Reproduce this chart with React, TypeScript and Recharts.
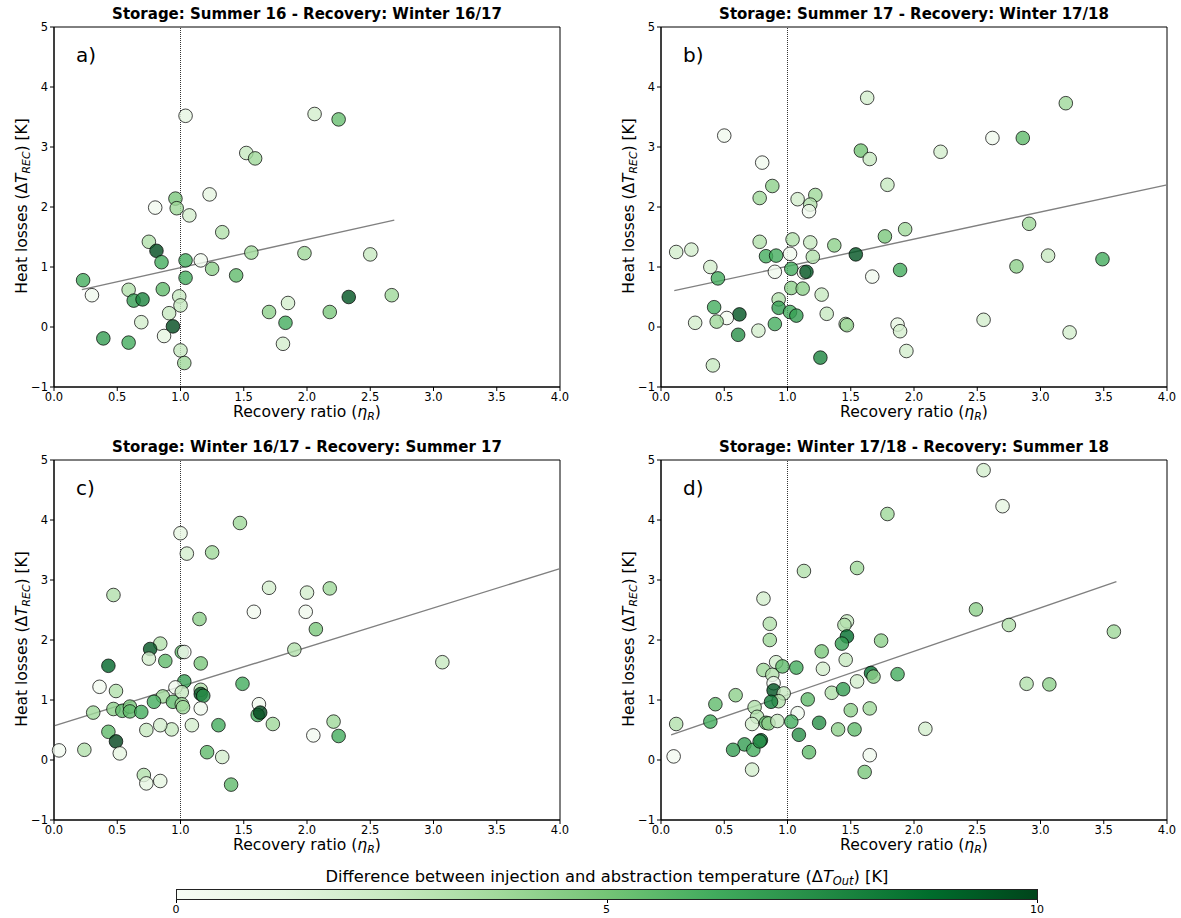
import React from "react";
import { ReferenceArea, ReferenceLine, Scatter, ScatterChart, XAxis, YAxis } from "recharts";

const FONT = "'DejaVu Sans', sans-serif";

// a) Storage: Summer 16 - Recovery: Winter 16/17
const ratioA = [1.04, 1.52, 1.59, 0.96, 0.97, 0.8, 1.23, 1.07, 1.33, 0.75, 0.81, 0.85, 1.04, 1.16, 1.56, 1.98, 1.25, 1.44, 1.04, 0.23, 0.3, 0.59, 0.63, 0.7, 0.86, 0.99, 1.0, 0.91, 0.69, 0.94, 0.87, 0.39, 0.59, 1.0, 1.03, 1.7, 1.85, 1.83, 1.81, 2.06, 2.25, 2.5, 2.33, 2.18, 2.67];
const lossA = [3.52, 2.9, 2.81, 2.14, 1.98, 1.99, 2.21, 1.86, 1.58, 1.42, 1.27, 1.08, 1.11, 1.11, 1.24, 1.23, 0.97, 0.86, 0.82, 0.78, 0.53, 0.62, 0.44, 0.46, 0.63, 0.51, 0.36, 0.23, 0.08, 0.01, -0.15, -0.19, -0.26, -0.39, -0.6, 0.25, 0.4, 0.07, -0.28, 3.55, 3.46, 1.21, 0.5, 0.25, 0.53];
const deltaA = [1.2, 2.5, 3.8, 4.8, 3.8, 0.3, 1.2, 2.0, 3.2, 3.2, 9.8, 6.2, 6.2, 0.5, 3.8, 3.8, 4.3, 5.5, 6.2, 6.2, 0.5, 3.2, 6.8, 7.8, 5.5, 2.5, 2.5, 2.5, 2.0, 9.8, 1.2, 6.8, 6.2, 2.5, 3.8, 4.3, 2.0, 6.2, 2.0, 2.0, 5.3, 2.5, 9.5, 4.8, 3.8];
const fitA = [0.52, 0.469, 0.22, 2.69]; // intercept, slope, x from, x to

// b) Storage: Summer 17 - Recovery: Winter 17/18
const ratioB = [1.63, 0.5, 1.58, 1.65, 0.8, 0.88, 1.79, 0.78, 1.08, 1.22, 1.18, 1.17, 1.93, 1.77, 0.12, 0.24, 0.78, 1.04, 1.18, 1.37, 1.54, 0.83, 0.91, 1.02, 1.2, 0.39, 0.45, 0.9, 1.03, 1.13, 1.15, 1.67, 1.89, 1.03, 1.12, 1.27, 0.93, 0.93, 0.42, 0.62, 0.52, 0.44, 0.27, 1.02, 1.07, 1.31, 1.46, 1.47, 0.9, 0.77, 0.61, 1.26, 0.41, 1.87, 1.89, 1.94, 3.2, 2.62, 2.86, 2.21, 2.91, 3.06, 2.81, 3.49, 2.55, 3.23];
const lossB = [3.82, 3.19, 2.94, 2.8, 2.74, 2.35, 2.37, 2.15, 2.13, 2.2, 2.04, 1.93, 1.63, 1.51, 1.25, 1.29, 1.42, 1.46, 1.41, 1.36, 1.21, 1.18, 1.19, 1.22, 1.17, 1.0, 0.81, 0.92, 0.97, 0.91, 0.92, 0.84, 0.95, 0.65, 0.64, 0.54, 0.46, 0.32, 0.33, 0.21, 0.15, 0.09, 0.07, 0.25, 0.19, 0.22, 0.05, 0.03, 0.05, -0.06, -0.13, -0.51, -0.64, 0.04, -0.07, -0.4, 3.73, 3.15, 3.15, 2.92, 1.72, 1.19, 1.01, 1.13, 0.12, -0.09];
const deltaB = [2.0, 0.5, 5.0, 2.5, 0.5, 4.3, 2.5, 3.8, 2.0, 3.8, 3.2, 0.5, 3.8, 4.8, 2.0, 2.0, 3.2, 3.2, 2.5, 4.3, 9.5, 6.2, 6.2, 0.5, 3.2, 2.0, 6.2, 0.5, 6.2, 0.5, 9.5, 0.5, 6.2, 4.3, 4.3, 2.5, 3.2, 6.8, 6.2, 9.5, 0.3, 3.8, 2.0, 6.2, 6.8, 2.5, 3.2, 3.8, 6.2, 2.0, 7.3, 7.8, 2.5, 1.2, 2.0, 2.0, 3.8, 0.5, 5.5, 2.0, 3.8, 2.5, 4.3, 6.2, 2.0, 2.0];
const fitB = [0.559, 0.4527, 0.105, 4.0];

// c) Storage: Winter 16/17 - Recovery: Summer 17
const ratioC = [1.47, 1.0, 1.05, 1.25, 0.47, 1.7, 2.0, 1.58, 1.99, 1.15, 2.07, 2.18, 3.07, 1.9, 0.84, 0.76, 0.75, 0.88, 1.01, 1.03, 1.16, 0.43, 0.36, 0.49, 1.03, 0.96, 1.01, 1.16, 1.16, 1.18, 1.49, 1.16, 0.86, 0.79, 0.94, 1.01, 1.02, 0.47, 0.31, 0.54, 0.6, 0.6, 0.69, 1.62, 1.61, 1.63, 1.73, 1.3, 1.09, 0.93, 0.84, 0.73, 0.43, 0.49, 0.52, 0.24, 0.04, 1.21, 1.33, 1.4, 0.71, 0.73, 0.84, 2.05, 2.21, 2.25];
const lossC = [3.95, 3.78, 3.44, 3.46, 2.75, 2.87, 2.79, 2.47, 2.47, 2.35, 2.18, 2.86, 1.63, 1.84, 1.94, 1.85, 1.69, 1.65, 1.8, 1.8, 1.61, 1.57, 1.22, 1.15, 1.31, 1.21, 1.13, 1.17, 1.1, 1.07, 1.27, 0.86, 1.06, 0.97, 0.97, 0.93, 0.88, 0.85, 0.79, 0.82, 0.89, 0.81, 0.8, 0.93, 0.75, 0.79, 0.6, 0.58, 0.58, 0.51, 0.58, 0.5, 0.47, 0.31, 0.11, 0.17, 0.16, 0.13, 0.05, -0.41, -0.25, -0.39, -0.35, 0.41, 0.64, 0.4];
const deltaC = [3.8, 1.2, 2.0, 3.8, 3.2, 2.0, 2.0, 0.3, 0.5, 4.3, 4.8, 3.8, 2.5, 3.2, 3.2, 9.5, 2.0, 5.5, 5.5, 0.3, 4.8, 9.0, 0.3, 3.2, 6.8, 0.5, 2.5, 3.2, 9.7, 7.3, 6.2, 0.5, 3.8, 6.2, 5.5, 3.8, 3.8, 4.3, 3.8, 5.5, 4.8, 5.5, 6.2, 0.5, 6.2, 10, 3.8, 6.2, 2.0, 2.5, 2.0, 2.5, 5.5, 10, 1.2, 3.2, 0.3, 5.5, 2.0, 5.5, 3.2, 1.2, 1.2, 0.3, 3.8, 6.2];
const fitC = [0.57, 0.655, 0.0, 4.0];

// d) Storage: Winter 17/18 - Recovery: Summer 18
const ratioD = [1.79, 1.13, 1.55, 0.81, 0.86, 0.86, 1.47, 1.45, 1.47, 1.43, 1.74, 1.27, 1.46, 1.28, 0.91, 0.81, 0.88, 0.96, 1.07, 0.89, 0.89, 0.97, 0.93, 0.87, 0.59, 0.43, 1.16, 1.35, 1.44, 1.55, 1.66, 1.68, 1.87, 0.74, 0.76, 0.72, 0.83, 0.85, 0.92, 1.08, 1.03, 0.39, 0.12, 1.09, 1.25, 1.4, 1.53, 1.5, 1.65, 0.66, 0.57, 0.73, 0.79, 0.78, 1.17, 0.1, 1.65, 0.72, 1.61, 2.55, 2.7, 2.49, 2.75, 3.58, 2.89, 3.07, 2.09];
const lossD = [4.1, 3.15, 3.2, 2.69, 2.27, 2.0, 2.31, 2.25, 2.06, 1.94, 1.99, 1.81, 1.67, 1.52, 1.63, 1.5, 1.42, 1.56, 1.54, 1.28, 1.16, 1.11, 0.98, 0.97, 1.08, 0.93, 1.01, 1.12, 1.18, 1.31, 1.45, 1.39, 1.43, 0.88, 0.72, 0.6, 0.62, 0.61, 0.65, 0.78, 0.64, 0.64, 0.6, 0.42, 0.62, 0.51, 0.51, 0.83, 0.86, 0.26, 0.17, 0.17, 0.33, 0.31, 0.13, 0.06, 0.08, -0.16, -0.2, 4.83, 4.23, 2.51, 2.25, 2.14, 1.27, 1.26, 0.52];
const deltaD = [3.8, 3.2, 3.8, 2.0, 3.2, 3.8, 2.5, 3.2, 8.7, 6.8, 4.3, 4.8, 2.5, 2.0, 2.0, 3.8, 3.2, 5.5, 6.2, 0.5, 9.5, 2.5, 3.2, 8.2, 4.3, 5.5, 5.5, 3.2, 6.8, 2.0, 8.7, 4.3, 6.2, 3.2, 3.2, 2.0, 5.5, 4.3, 2.5, 0.5, 6.2, 6.2, 3.2, 7.3, 7.3, 4.3, 5.5, 4.3, 3.8, 6.8, 6.8, 6.2, 8.7, 7.3, 5.5, 0.3, 0.5, 2.0, 4.8, 2.0, 1.2, 4.3, 3.2, 3.8, 3.2, 4.3, 2.0];
const fitD = [0.36, 0.726, 0.08, 3.6];

const xTicks = [0, 0.5, 1, 1.5, 2, 2.5, 3, 3.5, 4];
const yTicks = [-1, 0, 1, 2, 3, 4, 5];
const cbarTicks = [0, 5, 10];

// matplotlib "Greens"
const GREENS = ["#f7fcf5", "#e5f5e0", "#c7e9c0", "#a1d99b", "#74c476", "#41ab5d", "#238b45", "#006d2c", "#00441b"];

function hex(c: string) {
  return [1, 3, 5].map((i) => parseInt(c.slice(i, i + 2), 16));
}

function greens(v: number) {
  const t = Math.max(0, Math.min(1, v / 10)) * (GREENS.length - 1);
  const i = Math.min(Math.floor(t), GREENS.length - 2);
  const f = t - i;
  const a = hex(GREENS[i]);
  const b = hex(GREENS[i + 1]);
  const m = a.map((x, k) => Math.round(x + (b[k] - x) * f));
  return `rgb(${m[0]},${m[1]},${m[2]})`;
}

const tickStyle = { fontSize: 11.5, fill: "#000", fontFamily: FONT };

function Dot(props: any) {
  const { cx, cy, payload } = props;
  return (
    <circle
      cx={cx}
      cy={cy}
      r={6.8}
      fill={greens(payload.c)}
      fillOpacity={0.8}
      stroke="#000"
      strokeOpacity={0.8}
      strokeWidth={0.9}
    />
  );
}

type PanelProps = {
  title: string;
  letter: string;
  xs: number[];
  ys: number[];
  cs: number[];
  fit: number[];
  left: number;
  top: number;
};

function Panel({ title, letter, xs, ys, cs, fit, left, top }: PanelProps) {
  const points = xs.map((x, i) => ({ x, y: ys[i], c: cs[i] }));
  const [a, b, x0, x1] = fit;
  return (
    <div style={{ position: "absolute", left, top, width: 570, height: 440, fontFamily: FONT }}>
      <ScatterChart width={570} height={440} margin={{ top: 27, right: 10, bottom: 0, left: 0 }}>
        <XAxis
          type="number"
          dataKey="x"
          domain={[0, 4]}
          ticks={xTicks}
          tickFormatter={(v) => v.toFixed(1)}
          height={53}
          tick={tickStyle}
          tickSize={4}
          axisLine={{ stroke: "#000" }}
          tickLine={{ stroke: "#000" }}
        />
        <YAxis
          type="number"
          dataKey="y"
          domain={[-1, 5]}
          ticks={yTicks}
          tickFormatter={(v) => String(v).replace("-", "\u2212")}
          width={54}
          tick={tickStyle}
          tickSize={4}
          axisLine={{ stroke: "#000" }}
          tickLine={{ stroke: "#000" }}
        />
        <ReferenceArea x1={0} x2={4} y1={-1} y2={5} fill="none" stroke="#000" strokeWidth={1} />
        <ReferenceLine x={1} stroke="#000" strokeWidth={0.8} strokeDasharray="1 1" />
        <ReferenceLine
          segment={[
            { x: x0, y: a + b * x0 },
            { x: x1, y: a + b * x1 }
          ]}
          stroke="#808080"
          strokeWidth={1.4}
        />
        <Scatter data={points} shape={Dot} isAnimationActive={false} />
      </ScatterChart>
      <div
        style={{
          position: "absolute",
          left: 54,
          width: 506,
          top: 5,
          lineHeight: "18px",
          textAlign: "center",
          fontSize: 15,
          fontWeight: "bold"
        }}
      >
        {title}
      </div>
      <div style={{ position: "absolute", left: 76, top: 42, fontSize: 20, lineHeight: "26px" }}>{letter}</div>
      <div
        style={{
          position: "absolute",
          left: 54,
          width: 506,
          top: 403,
          lineHeight: "18px",
          textAlign: "center",
          fontSize: 15.6
        }}
      >
        Recovery ratio (<i>η</i>
        <sub style={{ fontSize: "0.7em", verticalAlign: "-0.3em", lineHeight: 0 }}>
          <i>R</i>
        </sub>
        )
      </div>
      <div
        style={{
          position: "absolute",
          left: 22 - 180,
          width: 360,
          top: 206 - 10,
          lineHeight: "20px",
          textAlign: "center",
          fontSize: 15.5,
          transform: "rotate(-90deg)"
        }}
      >
        Heat losses (Δ<i>T</i>
        <sub style={{ fontSize: "0.7em", verticalAlign: "-0.3em", lineHeight: 0 }}>
          <i>REC</i>
        </sub>
        ) [K]
      </div>
    </div>
  );
}

const BAR_W = 862;

function ColorBar() {
  return (
    <div style={{ position: "absolute", left: 176, top: 866, width: BAR_W, height: 52, fontFamily: FONT }}>
      <div
        style={{
          position: "absolute",
          left: -100,
          width: BAR_W + 200,
          top: 2,
          lineHeight: "18px",
          textAlign: "center",
          fontSize: 16.3
        }}
      >
        Difference between injection and abstraction temperature (Δ<i>T</i>
        <sub style={{ fontSize: "0.7em", verticalAlign: "-0.3em", lineHeight: 0 }}>
          <i>Out</i>
        </sub>
        ) [K]
      </div>
      <div
        style={{
          position: "absolute",
          left: 0,
          top: 23,
          width: BAR_W,
          height: 11,
          boxSizing: "border-box",
          border: "1px solid #222",
          background: `linear-gradient(to right, ${GREENS.join(", ")})`
        }}
      />
      {cbarTicks.map((t) => {
        const x = (t / 10) * (BAR_W - 1);
        return (
          <React.Fragment key={t}>
            <div style={{ position: "absolute", left: x, top: 34, width: 1, height: 3, background: "#000" }} />
            <div
              style={{
                position: "absolute",
                left: x - 20,
                width: 40,
                top: 37,
                lineHeight: "14px",
                textAlign: "center",
                fontSize: 11
              }}
            >
              {t}
            </div>
          </React.Fragment>
        );
      })}
    </div>
  );
}

export default function App() {
  return (
    <div style={{ position: "absolute", left: 0, top: 0, width: 1181, height: 918, background: "#fff" }}>
      <Panel title="Storage: Summer 16 - Recovery: Winter 16/17" letter="a)" xs={ratioA} ys={lossA} cs={deltaA} fit={fitA} left={0} top={0} />
      <Panel title="Storage: Summer 17 - Recovery: Winter 17/18" letter="b)" xs={ratioB} ys={lossB} cs={deltaB} fit={fitB} left={607} top={0} />
      <Panel title="Storage: Winter 16/17 - Recovery: Summer 17" letter="c)" xs={ratioC} ys={lossC} cs={deltaC} fit={fitC} left={0} top={433} />
      <Panel title="Storage: Winter 17/18 - Recovery: Summer 18" letter="d)" xs={ratioD} ys={lossD} cs={deltaD} fit={fitD} left={607} top={433} />
      <ColorBar />
    </div>
  );
}
